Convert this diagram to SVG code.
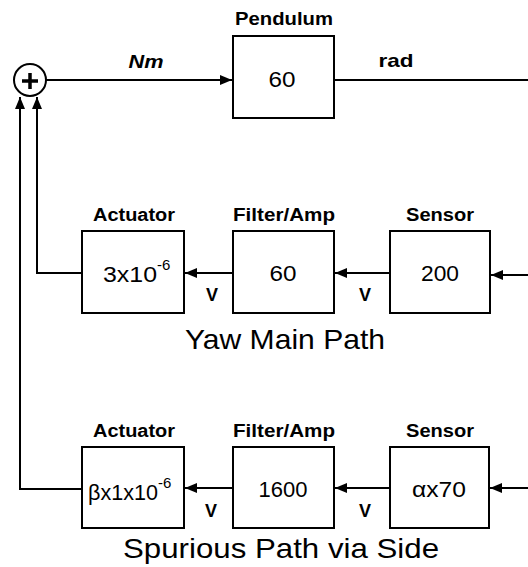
<svg xmlns="http://www.w3.org/2000/svg" width="528" height="567" viewBox="0 0 528 567">
<style>
.box{fill:#fff;stroke:#000;stroke-width:2}
.ln{fill:none;stroke:#000;stroke-width:2}
.t{font-family:"Liberation Sans",Arial,sans-serif;fill:#000}
.lbl{font-size:18px;font-weight:bold;text-anchor:middle}
.val{font-size:22px;text-anchor:middle}
.sup{font-size:15px}
.v{font-size:18px;font-weight:bold;text-anchor:middle}
.big{font-size:28px;text-anchor:middle}
.unit{font-size:19px;font-weight:bold;text-anchor:middle}
</style>
<defs>
<marker id="ah" viewBox="0 0 12 10" refX="12" refY="5" markerWidth="12" markerHeight="10" markerUnits="userSpaceOnUse" orient="auto">
<path d="M0,0 L12,5 L0,10 Z" fill="#000"/>
</marker>
</defs>
<g id="connectors">
<line class="ln" x1="46" y1="80" x2="232" y2="80" marker-end="url(#ah)"/>
<line class="ln" x1="334" y1="80" x2="528" y2="80"/>
<line class="ln" x1="233" y1="273" x2="185" y2="273" marker-end="url(#ah)"/>
<line class="ln" x1="390" y1="273" x2="335" y2="273" marker-end="url(#ah)"/>
<line class="ln" x1="528" y1="275" x2="491" y2="275" marker-end="url(#ah)"/>
<polyline class="ln" points="82,273 37,273 37,97" marker-end="url(#ah)"/>
<line class="ln" x1="233" y1="488" x2="185" y2="488" marker-end="url(#ah)"/>
<line class="ln" x1="390" y1="488" x2="335" y2="488" marker-end="url(#ah)"/>
<line class="ln" x1="528" y1="488" x2="490" y2="488" marker-end="url(#ah)"/>
<polyline class="ln" points="82,489 20,489 20,97" marker-end="url(#ah)"/>
<text class="t unit" x="146" y="68" font-style="italic" textLength="35" lengthAdjust="spacingAndGlyphs">Nm</text>
<text class="t unit" x="396" y="67" textLength="35" lengthAdjust="spacingAndGlyphs">rad</text>
<text class="t v" x="212" y="301">V</text>
<text class="t v" x="365" y="301">V</text>
<text class="t v" x="211" y="517">V</text>
<text class="t v" x="365" y="517">V</text>
</g>
<g id="sum">
<circle cx="30" cy="80" r="16" fill="#fff" stroke="#000" stroke-width="2"/>
<path d="M22,81 H38 M30,73 V89" stroke="#000" stroke-width="3.5"/>
</g>
<g id="pendulum">
<text class="t lbl" x="284" y="25" textLength="98" lengthAdjust="spacingAndGlyphs">Pendulum</text>
<rect class="box" x="233" y="36" width="101" height="82"/>
<text class="t val" x="282" y="87" textLength="27" lengthAdjust="spacingAndGlyphs">60</text>
</g>
<g id="actuator1">
<text class="t lbl" x="134" y="221" textLength="82" lengthAdjust="spacingAndGlyphs">Actuator</text>
<rect class="box" x="82" y="231" width="102" height="82"/>
<text class="t" style="font-size:22px" x="103" y="282"><tspan textLength="54" lengthAdjust="spacingAndGlyphs">3x10</tspan><tspan class="sup" dy="-12">-6</tspan></text>
</g>
<g id="filter1">
<text class="t lbl" x="284" y="221" textLength="102" lengthAdjust="spacingAndGlyphs">Filter/Amp</text>
<rect class="box" x="233" y="231" width="101" height="82"/>
<text class="t val" x="283" y="281" textLength="27" lengthAdjust="spacingAndGlyphs">60</text>
</g>
<g id="sensor1">
<text class="t lbl" x="440" y="221" textLength="68" lengthAdjust="spacingAndGlyphs">Sensor</text>
<rect class="box" x="390" y="231" width="100" height="82"/>
<text class="t val" x="440" y="281" textLength="38" lengthAdjust="spacingAndGlyphs">200</text>
</g>
<text class="t big" x="285" y="349" textLength="200" lengthAdjust="spacingAndGlyphs">Yaw Main Path</text>
<g id="actuator2">
<text class="t lbl" x="134" y="437" textLength="82" lengthAdjust="spacingAndGlyphs">Actuator</text>
<rect class="box" x="82" y="447" width="102" height="81"/>
<text class="t" style="font-size:22px" x="88" y="500"><tspan textLength="70" lengthAdjust="spacingAndGlyphs">βx1x10</tspan><tspan class="sup" dy="-12">-6</tspan></text>
</g>
<g id="filter2">
<text class="t lbl" x="284" y="437" textLength="102" lengthAdjust="spacingAndGlyphs">Filter/Amp</text>
<rect class="box" x="233" y="447" width="101" height="81"/>
<text class="t val" x="283" y="497">1600</text>
</g>
<g id="sensor2">
<text class="t lbl" x="440" y="437" textLength="68" lengthAdjust="spacingAndGlyphs">Sensor</text>
<rect class="box" x="390" y="447" width="99" height="81"/>
<text class="t val" x="439" y="497" textLength="54" lengthAdjust="spacingAndGlyphs">αx70</text>
</g>
<text class="t big" x="281" y="558" textLength="316" lengthAdjust="spacingAndGlyphs">Spurious Path via Side</text>
</svg>
